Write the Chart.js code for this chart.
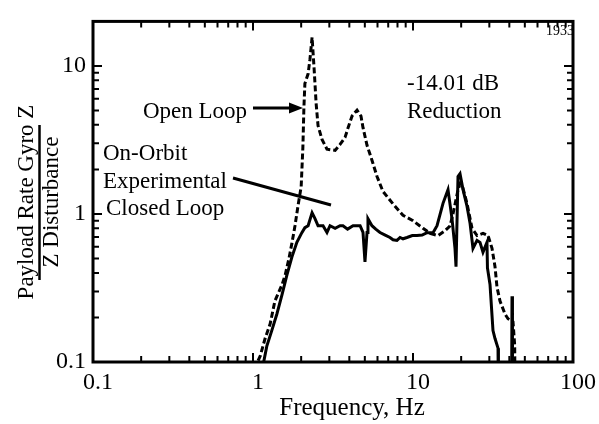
<!DOCTYPE html>
<html>
<head>
<meta charset="utf-8">
<script src="https://cdn.jsdelivr.net/npm/chart.js@4.4.1/dist/chart.umd.min.js"></script>
<style>
  html, body { margin: 0; padding: 0; background: #fff; }
  #wrap { width: 599px; height: 424px; }
</style>
</head>
<body>
<div id="wrap"><canvas id="freqChart" width="599" height="424"></canvas></div>
<script>
"use strict";

// open loop transfer magnitude (dashed)
var openFreq = [1.02, 1.11, 1.19, 1.28, 1.37, 1.52, 1.59, 1.68, 1.75, 1.83, 1.91, 2.0,
    2.05, 2.08, 2.11, 2.21, 2.27, 2.34, 2.41, 2.48, 2.55, 2.7, 2.9, 3.26, 3.5, 3.76,
    3.93, 4.16, 4.47, 4.73, 4.87, 5.16, 5.54, 5.96, 6.49, 7.5, 8.66, 10.0, 11.55,
    12.77, 14.33, 15.85, 17.03, 17.78, 19.11, 19.7, 20.5, 21.75, 23.38, 25.12, 27.38,
    29.43, 31.18, 32.55, 33.5, 34.98, 37.58, 39.26, 42.17, 43.2, 43.5];
var openMag = [0.09, 0.11, 0.144, 0.181, 0.258, 0.334, 0.388, 0.504, 0.633, 0.833, 1.13, 1.53,
    2.82, 5.19, 7.6, 8.85, 11.1, 15.6, 9.55, 5.6, 3.95, 3.19, 2.74, 2.69, 2.95, 3.29,
    3.83, 4.59, 5.03, 4.59, 3.83, 2.91, 2.31, 1.79, 1.42, 1.17, 0.98, 0.9, 0.8,
    0.74, 0.715, 0.77, 0.83, 1.0, 1.45, 1.6, 1.5, 1.18, 0.8, 0.715, 0.74,
    0.715, 0.586, 0.44, 0.32, 0.258, 0.211, 0.196, 0.187, 0.13, 0.05];

// on-orbit experimental closed loop (solid)
var closedFreq = [1.14, 1.155, 1.22, 1.31, 1.41, 1.52, 1.63, 1.75, 1.88, 2.02, 2.11, 2.21,
    2.34, 2.44, 2.55, 2.74, 2.9, 3.03, 3.26, 3.5, 3.65, 3.9, 4.22, 4.67, 4.87, 5.01,
    5.16, 5.23, 5.54, 5.85, 6.22, 6.7, 7.18, 7.5, 7.94, 8.3, 8.66, 9.17, 9.9, 10.59,
    11.4, 12.23, 13.34, 14.13, 15.4, 16.55, 17.53, 18.3, 18.57, 19.11, 19.67, 20.54,
    21.75, 22.71, 23.71, 25.12, 26.23, 27.38, 29.0, 29.2, 30.29, 31.62, 32.55, 33.99,
    34.2, 41.3, 41.57, 41.85];
var closedMag = [0.09, 0.095, 0.128, 0.163, 0.211, 0.286, 0.388, 0.511, 0.643, 0.748, 0.808, 0.833,
    1.02, 0.93, 0.833, 0.833, 0.75, 0.833, 0.8, 0.833, 0.833, 0.79, 0.833, 0.833, 0.75, 0.474,
    0.75, 0.93, 0.833, 0.79, 0.75, 0.72, 0.694, 0.67, 0.663, 0.694, 0.68, 0.694, 0.715, 0.715,
    0.72, 0.748, 0.748, 0.833, 1.18, 1.46, 0.93, 0.586, 0.44, 1.79, 1.87, 1.46,
    1.13, 0.87, 0.586, 0.663, 0.643, 0.552, 0.643, 0.432, 0.334, 0.163, 0.144, 0.124,
    0.05, 0.05, 0.278, 0.05];

// axis ticks
var xMajor = [0.1, 1, 10, 100];
var xMinor = [0.2, 0.3, 0.4, 0.5, 0.6, 0.7, 0.8, 0.9, 2, 3, 4, 5, 6, 7, 8, 9,
    20, 30, 40, 50, 60, 70, 80, 90];
var yMajor = [0.1, 1, 10];
var yMinor = [0.2, 0.3, 0.4, 0.5, 0.6, 0.7, 0.8, 0.9, 2, 3, 4, 5, 6, 7, 8, 9];

function toPoints(fs, ms) {
    return fs.map(function (f, i) { return { x: f, y: ms[i] }; });
}

var SERIF = '"Liberation Serif", "Times New Roman", serif';
Chart.defaults.font.family = SERIF;
Chart.defaults.color = '#000';

// box frame with inward ticks on all four sides
var frameTicks = {
    id: 'frameTicks',
    afterDatasetsDraw: function (chart) {
        var ctx = chart.ctx, a = chart.chartArea;
        var xs = chart.scales.x, ys = chart.scales.y;
        ctx.save();
        ctx.strokeStyle = '#000';
        ctx.lineWidth = 2;
        ctx.beginPath();
        xMajor.concat(xMinor).forEach(function (v) {
            var len = xMajor.indexOf(v) >= 0 ? 9 : 6;
            var px = xs.getPixelForValue(v);
            ctx.moveTo(px, a.bottom); ctx.lineTo(px, a.bottom - len);
            ctx.moveTo(px, a.top); ctx.lineTo(px, a.top + len);
        });
        yMajor.concat(yMinor).forEach(function (v) {
            var len = yMajor.indexOf(v) >= 0 ? 9 : 6;
            var py = ys.getPixelForValue(v);
            ctx.moveTo(a.left, py); ctx.lineTo(a.left + len, py);
            ctx.moveTo(a.right, py); ctx.lineTo(a.right - len, py);
        });
        ctx.stroke();
        ctx.lineWidth = 3;
        ctx.strokeRect(a.left, a.top, a.right - a.left, a.bottom - a.top);
        ctx.restore();
    }
};

// callouts and axis titles
var callouts = {
    id: 'callouts',
    afterDraw: function (chart) {
        var ctx = chart.ctx;
        ctx.save();
        ctx.fillStyle = '#000';
        ctx.strokeStyle = '#000';
        ctx.textBaseline = 'alphabetic';
        ctx.textAlign = 'left';
        ctx.font = '23px ' + SERIF;
        ctx.fillText('Open Loop', 143, 118);
        ctx.fillText('On-Orbit', 103, 160);
        ctx.fillText('Experimental', 103, 188);
        ctx.fillText('Closed Loop', 106, 215);
        ctx.fillText('-14.01 dB', 407, 90);
        ctx.fillText('Reduction', 407, 118);

        ctx.font = '14px ' + SERIF;
        ctx.textAlign = 'right';
        ctx.fillText('1933', 574, 35);

        // arrow to the open loop curve
        ctx.lineWidth = 3;
        ctx.beginPath();
        ctx.moveTo(253, 108); ctx.lineTo(291, 108);
        ctx.stroke();
        ctx.beginPath();
        ctx.moveTo(303, 108); ctx.lineTo(289, 102.5); ctx.lineTo(289, 113.5);
        ctx.closePath();
        ctx.fill();

        // leader to the closed loop curve
        ctx.beginPath();
        ctx.moveTo(233, 178); ctx.lineTo(331, 205);
        ctx.stroke();

        // x title
        ctx.font = '25px ' + SERIF;
        ctx.textAlign = 'center';
        ctx.fillText('Frequency, Hz', 352, 415);

        // y title as a ratio
        ctx.font = '23px ' + SERIF;
        ctx.save();
        ctx.translate(33, 202);
        ctx.rotate(-Math.PI / 2);
        ctx.fillText('Payload Rate Gyro Z', 0, 0);
        ctx.restore();
        ctx.save();
        ctx.translate(58, 202);
        ctx.rotate(-Math.PI / 2);
        ctx.fillText('Z Disturbance', 0, 0);
        ctx.restore();
        ctx.lineWidth = 2.5;
        ctx.beginPath();
        ctx.moveTo(39.5, 125); ctx.lineTo(39.5, 280);
        ctx.stroke();
        ctx.restore();
    }
};

var ctx = document.getElementById('freqChart').getContext('2d');
var freqChart = new Chart(ctx, {
    type: 'scatter',
    data: {
        datasets: [{
            label: 'On-Orbit Experimental Closed Loop',
            data: toPoints(closedFreq, closedMag),
            showLine: true,
            borderColor: '#000',
            borderWidth: 3,
            pointRadius: 0,
            tension: 0
        },
        {
            label: 'Open Loop',
            data: toPoints(openFreq, openMag),
            showLine: true,
            borderColor: '#000',
            borderWidth: 3,
            borderDash: [6, 3],
            pointRadius: 0,
            tension: 0
        }]
    },
    options: {
        responsive: false,
        animation: false,
        layout: { padding: { left: 0, right: 26, top: 12, bottom: 0 } },
        plugins: {
            legend: { display: false },
            tooltip: { enabled: false }
        },
        scales: {
            x: {
                type: 'logarithmic',
                min: 0.1,
                max: 100,
                grid: { display: false, drawTicks: false },
                border: { display: false },
                afterBuildTicks: function (s) {
                    s.ticks = xMajor.map(function (v) { return { value: v }; });
                },
                afterFit: function (s) { s.height = 62; },
                ticks: {
                    font: { size: 24 },
                    color: '#000',
                    padding: 6,
                    labelOffset: 5,
                    maxRotation: 0,
                    autoSkip: false,
                    callback: function (v) { return String(v); }
                }
            },
            y: {
                type: 'logarithmic',
                min: 0.1,
                max: 20,
                grid: { display: false, drawTicks: false },
                border: { display: false },
                afterBuildTicks: function (s) {
                    s.ticks = yMajor.map(function (v) { return { value: v }; });
                },
                afterFit: function (s) { s.width = 93; },
                ticks: {
                    font: { size: 24 },
                    color: '#000',
                    padding: 7,
                    autoSkip: false,
                    callback: function (v) { return String(v); }
                }
            }
        }
    },
    plugins: [frameTicks, callouts]
});
</script>
</body>
</html>
